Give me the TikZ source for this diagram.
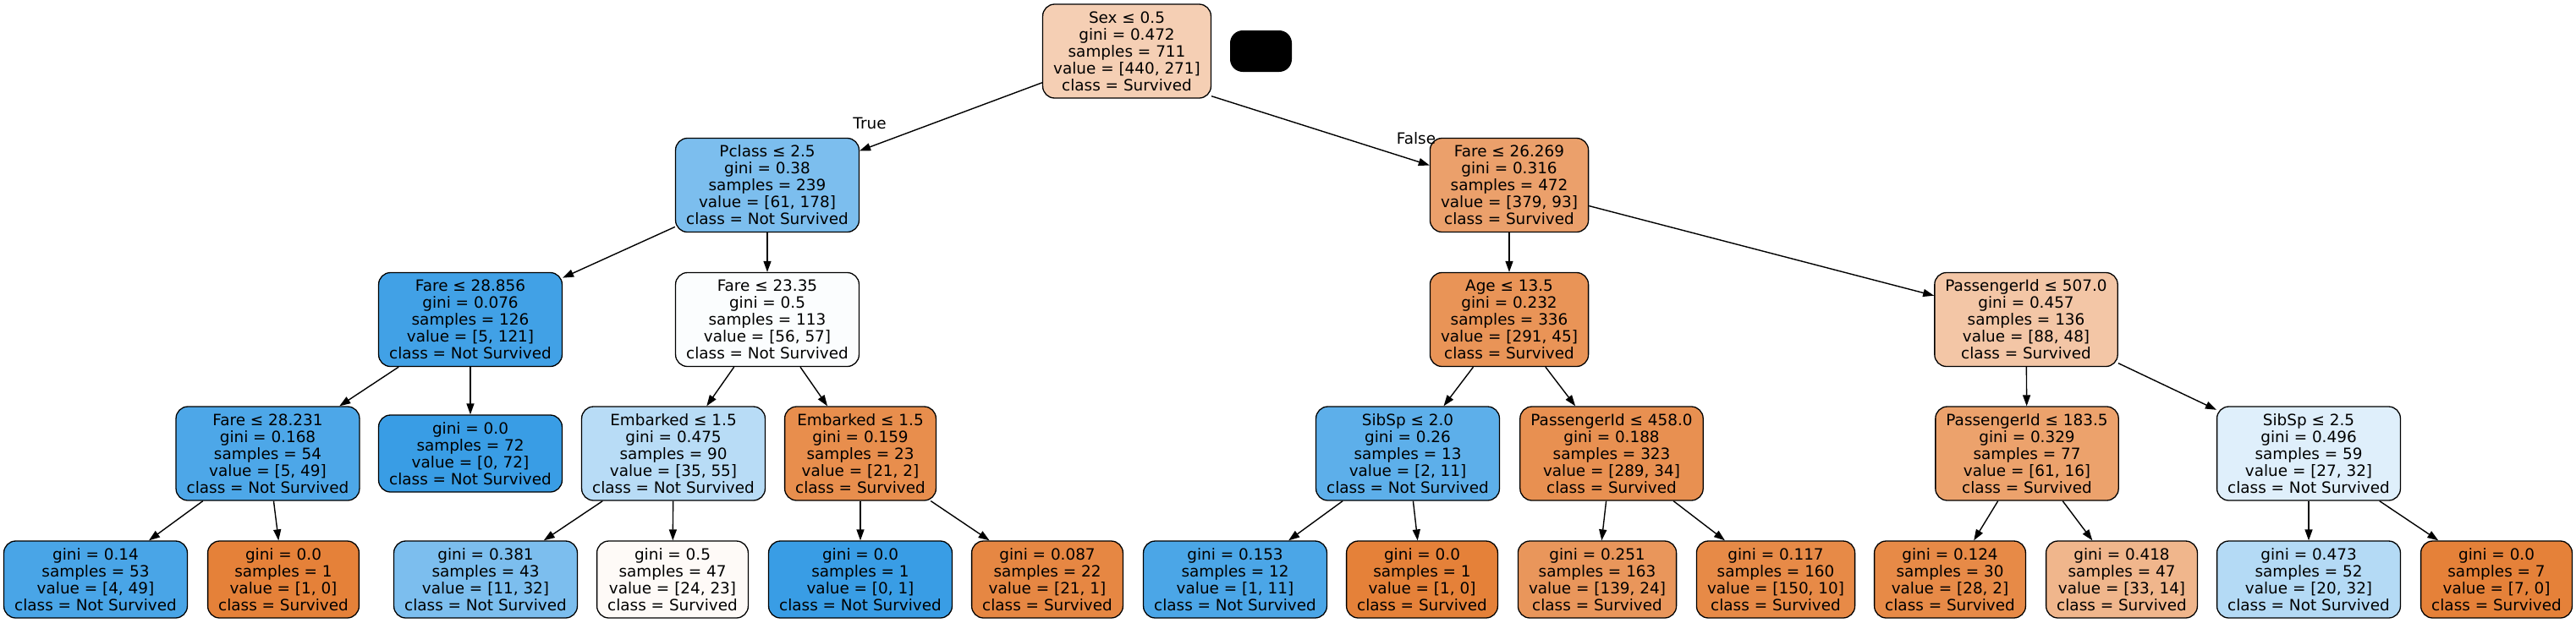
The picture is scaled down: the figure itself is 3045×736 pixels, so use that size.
\documentclass[tikz,border=0pt]{standalone}
\usepackage{fontspec}
\setmainfont{DejaVu Sans}
\usetikzlibrary{arrows.meta}
\definecolor{ocl}{RGB}{229,129,57}
\definecolor{bcl}{RGB}{57,157,229}
\tikzset{
 tn/.style={draw=black, line width=0.65pt, rounded corners=7pt, align=center, inner xsep=6.3pt, inner ysep=0pt, font=\fontsize{9.2pt}{10pt}\selectfont},
 split/.style={tn, minimum height=55.5pt},
 leaf/.style={tn, minimum height=45.5pt},
 edge/.style={-{Triangle[length=6.5pt,width=4.5pt]}, line width=0.7pt},
 lbl/.style={inner sep=0pt, font=\fontsize{9.2pt}{10pt}\selectfont}
}
\begin{document}
\begin{tikzpicture}[x=0.5pt, y=-0.5pt]
\useasboundingbox (0,0) rectangle (3045,736);
% level 0
\node[split, fill=ocl!38!white] (root) at (1332,60.5) {Sex ≤ 0.5\\gini = 0.472\\samples = 711\\value = [440, 271]\\class = Survived};
\node[fill=black, rounded corners=7.5pt, minimum width=36.5pt, minimum height=24.5pt, inner sep=0pt] (legend) at (1490.5,60.5) {};
% level 1
\node[split, fill=bcl!66!white] (pclass) at (907,219) {Pclass ≤ 2.5\\gini = 0.38\\samples = 239\\value = [61, 178]\\class = Not Survived};
\node[split, fill=ocl!75!white] (fare26) at (1784,219) {Fare ≤ 26.269\\gini = 0.316\\samples = 472\\value = [379, 93]\\class = Survived};
% level 2
\node[split, fill=bcl!96!white] (fareA) at (556,378) {Fare ≤ 28.856\\gini = 0.076\\samples = 126\\value = [5, 121]\\class = Not Survived};
\node[split, fill=bcl!2!white] (fareB) at (907,378) {Fare ≤ 23.35\\gini = 0.5\\samples = 113\\value = [56, 57]\\class = Not Survived};
\node[split, fill=ocl!85!white] (age) at (1784,378) {Age ≤ 13.5\\gini = 0.232\\samples = 336\\value = [291, 45]\\class = Survived};
\node[split, fill=ocl!45!white] (pidA) at (2395,378) {PassengerId ≤ 507.0\\gini = 0.457\\samples = 136\\value = [88, 48]\\class = Survived};
% level 3
\node[split, fill=bcl!90!white] (fareC) at (316.5,536.5) {Fare ≤ 28.231\\gini = 0.168\\samples = 54\\value = [5, 49]\\class = Not Survived};
\node[leaf, fill=bcl] (leafA) at (556,536.5) {gini = 0.0\\samples = 72\\value = [0, 72]\\class = Not Survived};
\node[split, fill=bcl!36!white] (embA) at (796,536.5) {Embarked ≤ 1.5\\gini = 0.475\\samples = 90\\value = [35, 55]\\class = Not Survived};
\node[split, fill=ocl!90!white] (embB) at (1017,536.5) {Embarked ≤ 1.5\\gini = 0.159\\samples = 23\\value = [21, 2]\\class = Survived};
\node[split, fill=bcl!82!white] (sibA) at (1664,536.5) {SibSp ≤ 2.0\\gini = 0.26\\samples = 13\\value = [2, 11]\\class = Not Survived};
\node[split, fill=ocl!88!white] (pidB) at (1905,536.5) {PassengerId ≤ 458.0\\gini = 0.188\\samples = 323\\value = [289, 34]\\class = Survived};
\node[split, fill=ocl!74!white] (pidC) at (2396,536.5) {PassengerId ≤ 183.5\\gini = 0.329\\samples = 77\\value = [61, 16]\\class = Survived};
\node[split, fill=bcl!16!white] (sibB) at (2729,536.5) {SibSp ≤ 2.5\\gini = 0.496\\samples = 59\\value = [27, 32]\\class = Not Survived};
% level 4
\node[leaf, fill=bcl!92!white] (l1) at (113,685.5) {gini = 0.14\\samples = 53\\value = [4, 49]\\class = Not Survived};
\node[leaf, fill=ocl] (l2) at (335,685.5) {gini = 0.0\\samples = 1\\value = [1, 0]\\class = Survived};
\node[leaf, fill=bcl!66!white] (l3) at (574,685.5) {gini = 0.381\\samples = 43\\value = [11, 32]\\class = Not Survived};
\node[leaf, fill=ocl!4!white] (l4) at (795,685.5) {gini = 0.5\\samples = 47\\value = [24, 23]\\class = Survived};
\node[leaf, fill=bcl] (l5) at (1017,685.5) {gini = 0.0\\samples = 1\\value = [0, 1]\\class = Not Survived};
\node[leaf, fill=ocl!95!white] (l6) at (1238,685.5) {gini = 0.087\\samples = 22\\value = [21, 1]\\class = Survived};
\node[leaf, fill=bcl!91!white] (l7) at (1460,685.5) {gini = 0.153\\samples = 12\\value = [1, 11]\\class = Not Survived};
\node[leaf, fill=ocl] (l8) at (1681,685.5) {gini = 0.0\\samples = 1\\value = [1, 0]\\class = Survived};
\node[leaf, fill=ocl!83!white] (l9) at (1888,685.5) {gini = 0.251\\samples = 163\\value = [139, 24]\\class = Survived};
\node[leaf, fill=ocl!93!white] (l10) at (2099,685.5) {gini = 0.117\\samples = 160\\value = [150, 10]\\class = Survived};
\node[leaf, fill=ocl!93!white] (l11) at (2305,685.5) {gini = 0.124\\samples = 30\\value = [28, 2]\\class = Survived};
\node[leaf, fill=ocl!58!white] (l12) at (2508,685.5) {gini = 0.418\\samples = 47\\value = [33, 14]\\class = Survived};
\node[leaf, fill=bcl!38!white] (l13) at (2729,685.5) {gini = 0.473\\samples = 52\\value = [20, 32]\\class = Not Survived};
\node[leaf, fill=ocl] (l14) at (2951,685.5) {gini = 0.0\\samples = 7\\value = [7, 0]\\class = Survived};
% edge labels
\node[lbl] (truelbl) at (1028,146) {True};
\node[lbl] (falselbl) at (1674,164) {False};
% edges
\draw[edge] (root) -- (pclass);
\draw[edge] (root.-28) -- (fare26.166);
\draw[edge] (pclass) -- (fareA);
\draw[edge] (pclass) -- (fareB);
\draw[edge] (fareA) -- (fareC);
\draw[edge] (fareA) -- (leafA);
\draw[edge] (fareC) -- (l1);
\draw[edge] (fareC) -- (l2);
\draw[edge] (fareB) -- (embA);
\draw[edge] (fareB) -- (embB);
\draw[edge] (embA) -- (l3);
\draw[edge] (embA) -- (l4);
\draw[edge] (embB) -- (l5);
\draw[edge] (embB) -- (l6);
\draw[edge] (fare26) -- (age);
\draw[edge] (fare26) -- (pidA);
\draw[edge] (age) -- (sibA);
\draw[edge] (age) -- (pidB);
\draw[edge] (sibA) -- (l7);
\draw[edge] (sibA) -- (l8);
\draw[edge] (pidB) -- (l9);
\draw[edge] (pidB) -- (l10);
\draw[edge] (pidA) -- (pidC);
\draw[edge] (pidA) -- (sibB);
\draw[edge] (pidC) -- (l11);
\draw[edge] (pidC) -- (l12);
\draw[edge] (sibB) -- (l13);
\draw[edge] (sibB) -- (l14);
\end{tikzpicture}
\end{document}
